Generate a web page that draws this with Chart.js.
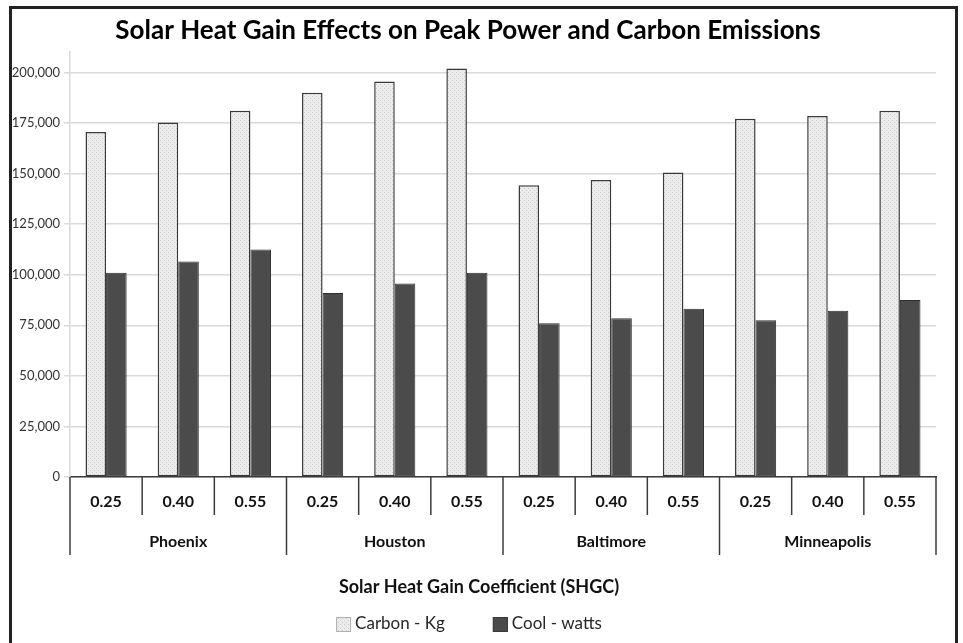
<!DOCTYPE html>
<html>
<head>
<meta charset="utf-8">
<script src="https://cdn.jsdelivr.net/npm/chart.js@4.4.1/dist/chart.umd.min.js"></script>
<style>
  body { margin: 0; background: #fff; }
  #frame { position: absolute; left: 9px; top: 6px; width: 943px; height: 700px; border: 3px solid #222; border-bottom: none; }
  #myChart { position: absolute; left: 0; top: 0; }
</style>
</head>
<body>
<div id="frame"></div>
<canvas id="myChart" width="963" height="643"></canvas>
<script>
var chartTitle = "Solar Heat Gain Effects on Peak Power and Carbon Emissions";
var axisTitle = "Solar Heat Gain Coefficient (SHGC)";
var cities = ["Phoenix", "Houston", "Baltimore", "Minneapolis"];
var shgc = ["0.25", "0.40", "0.55"];
var carbonKg = [170500, 175300, 181100, 190000, 195500, 202000, 144200, 146800, 150500, 177100, 178500, 181000];
var coolWatts = [101000, 106500, 112500, 91000, 95700, 101000, 76000, 78500, 83200, 77500, 82200, 87500];
var yTicks = [0, 25000, 50000, 75000, 100000, 125000, 150000, 175000, 200000];

var FONT = "Lato";

// one label per bar pair: the SHGC value, repeated for every city
var labels = [];
for (var c = 0; c < cities.length; c++) {
  for (var s = 0; s < shgc.length; s++) {
    labels.push(shgc[s]);
  }
}

// light dotted fill for the carbon bars
function dotPattern() {
  var pc = document.createElement("canvas");
  pc.width = 4; pc.height = 4;
  var g = pc.getContext("2d");
  g.fillStyle = "#ececec";
  g.fillRect(0, 0, 4, 4);
  g.fillStyle = "#cbcbcb";
  g.fillRect(0, 0, 1, 1);
  g.fillRect(2, 2, 1, 1);
  return g.createPattern(pc, "repeat");
}

// two level category axis + axis title + legend, drawn under the plot
var bottomAxis = {
  id: "bottomAxis",
  afterDraw: function (chart) {
    var ctx = chart.ctx;
    var xs = chart.scales.x;
    var base = chart.chartArea.bottom;
    var n = chart.data.labels.length;
    var half = (xs.getPixelForValue(1) - xs.getPixelForValue(0)) / 2;
    ctx.save();
    ctx.strokeStyle = "#3c3c3c";
    ctx.lineWidth = 1.5;
    for (var i = 0; i <= n; i++) {
      var x = i < n ? xs.getPixelForValue(i) - half : xs.getPixelForValue(n - 1) + half;
      var len = (i % shgc.length === 0) ? 78 : 38;
      ctx.beginPath();
      ctx.moveTo(x, base);
      ctx.lineTo(x, base + len);
      ctx.stroke();
    }
    ctx.fillStyle = "#111";
    ctx.textAlign = "center";
    ctx.textBaseline = "middle";
    ctx.font = "bold 16px " + FONT;
    for (i = 0; i < n; i++) {
      ctx.fillText(chart.data.labels[i], xs.getPixelForValue(i), base + 25);
    }
    for (i = 0; i < cities.length; i++) {
      var a = xs.getPixelForValue(i * shgc.length);
      var b = xs.getPixelForValue(i * shgc.length + shgc.length - 1);
      ctx.fillText(cities[i], (a + b) / 2, base + 65);
    }
    ctx.font = "bold 18px " + FONT;
    ctx.fillText(axisTitle, 479, 587);

    // legend
    var ds = chart.data.datasets;
    ctx.font = "17px " + FONT;
    var widths = ds.map(function (d) { return ctx.measureText(d.label).width; });
    var total = 0;
    for (i = 0; i < ds.length; i++) total += 15 + 4 + widths[i];
    total += 48 * (ds.length - 1);
    var lx = 469 - total / 2;
    ctx.textAlign = "left";
    for (i = 0; i < ds.length; i++) {
      ctx.fillStyle = ds[i].backgroundColor;
      ctx.fillRect(lx, 617, 15, 15);
      ctx.strokeStyle = i === 0 ? "#b0b0b0" : "#3a3a3a";
      ctx.lineWidth = 1;
      ctx.strokeRect(lx + 0.5, 617.5, 14, 14);
      ctx.fillStyle = "#262626";
      ctx.fillText(ds[i].label, lx + 19, 624);
      lx += 15 + 4 + widths[i] + 48;
    }
    ctx.restore();
  }
};

new Chart("myChart", {
  type: "bar",
  data: {
    labels: labels,
    datasets: [{
      label: "Carbon - Kg",
      data: carbonKg,
      backgroundColor: dotPattern(),
      borderColor: "#3a3a3a",
      borderWidth: 1.5,
      borderSkipped: false
    }, {
      label: "Cool - watts",
      data: coolWatts,
      backgroundColor: "#4b4b4b",
      borderColor: "#2e2e2e",
      borderWidth: 1,
      borderSkipped: false
    }]
  },
  options: {
    responsive: false,
    animation: false,
    devicePixelRatio: 1,
    layout: { padding: { left: 0, right: 27, top: 0, bottom: 0 } },
    datasets: { bar: { categoryPercentage: 0.57, barPercentage: 1.0 } },
    plugins: {
      legend: { display: false },
      tooltip: { enabled: false },
      title: {
        display: true,
        text: chartTitle,
        color: "#000",
        font: { family: FONT, size: 26, weight: "bold" },
        padding: { top: 15, bottom: 6 }
      }
    },
    scales: {
      x: {
        grid: { display: false },
        ticks: { display: false },
        border: { display: true, color: "#3c3c3c", width: 1.5 },
        afterFit: function (scale) { scale.height = 166; }
      },
      y: {
        min: 0,
        max: 210000,
        afterBuildTicks: function (axis) {
          axis.ticks = yTicks.map(function (v) { return { value: v }; });
        },
        grid: { color: "#d9d9d9", lineWidth: 1.5, tickLength: 6 },
        border: { display: true, color: "#d9d9d9", width: 1.5 },
        ticks: {
          color: "#333",
          padding: 4,
          font: { family: FONT, size: 13 },
          callback: function (v) { return v.toLocaleString("en-US"); }
        },
        afterFit: function (scale) { scale.width = 70; }
      }
    }
  },
  plugins: [bottomAxis]
});
</script>
</body>
</html>
